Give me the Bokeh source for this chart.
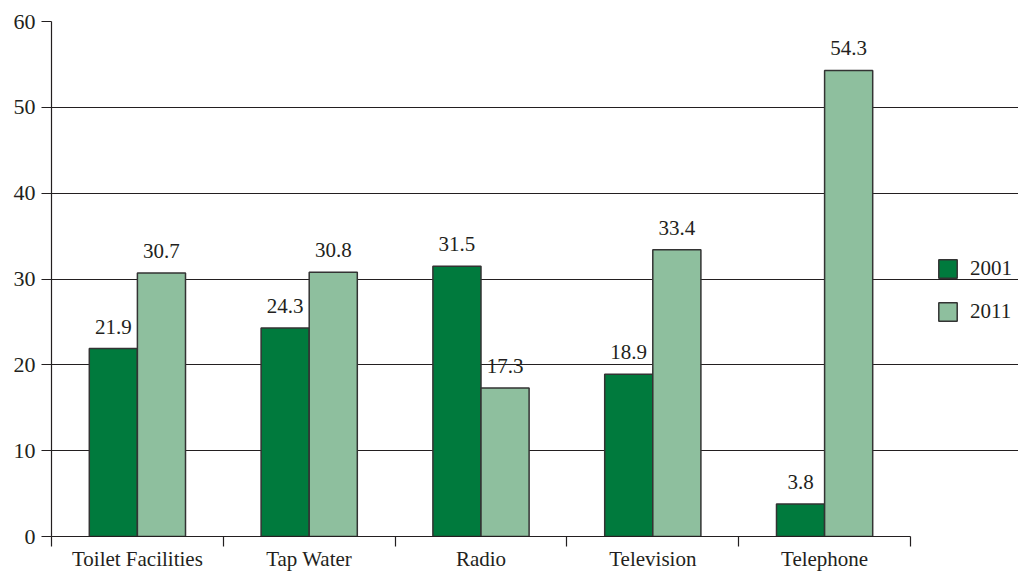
import numpy as np
from bokeh.plotting import figure
from bokeh.models import (ColumnDataSource, FixedTicker, CustomJSTickFormatter,
                          Legend, LegendItem, Range1d)
from bokeh.core.properties import value
from bokeh.embed import file_html
from bokeh.resources import INLINE

categories = ["Toilet Facilities", "Tap Water", "Radio", "Television", "Telephone"]
values_2001 = [21.9, 24.3, 31.5, 18.9, 3.8]
values_2011 = [30.7, 30.8, 17.3, 33.4, 54.3]
series_names = ["2001", "2011"]
y_ticks = [0, 10, 20, 30, 40, 50, 60]

FONT = "Liberation Serif"
TXT = "#231f20"
C2001 = "#007a3d"
C2011 = "#8ebf9e"
BAR_W = 0.28
OFF = 0.14

n = len(categories)
idx = np.arange(n)
centers = idx + 0.5
src01 = ColumnDataSource(dict(x=centers - OFF, top=values_2001,
                              lab=[f"{v:.1f}" for v in values_2001]))
src11 = ColumnDataSource(dict(x=centers + OFF, top=values_2011,
                              lab=[f"{v:.1f}" for v in values_2011]))

# frame extends to the right edge so the legend is not clipped;
# axis line and grid are bounded to the category span
FRAME_L, PLOT_R, W = 51, 910, 1018
x_end = n * (W - FRAME_L) / (PLOT_R - FRAME_L)

p = figure(width=W, height=573, output_backend="svg", toolbar_location=None,
           x_range=Range1d(0, x_end), y_range=Range1d(0, 60),
           min_border_left=FRAME_L, min_border_right=0, min_border_top=21,
           min_border_bottom=0)
p.outline_line_color = None
p.xgrid.visible = False
p.ygrid.grid_line_color = TXT
p.ygrid.grid_line_width = 1.2
p.ygrid.ticker = FixedTicker(ticks=y_ticks)
p.ygrid.bounds = (0, n)

r01 = p.vbar(x="x", top="top", width=BAR_W, source=src01, fill_color=C2001,
             line_color="#333333", line_width=1.5)
r11 = p.vbar(x="x", top="top", width=BAR_W, source=src11, fill_color=C2011,
             line_color="#333333", line_width=1.5)

for s in (src01, src11):
    p.text(x="x", y="top", text="lab", source=s, text_align="center",
           text_baseline="middle", y_offset=-22,
           text_font=value(FONT), text_font_size="21px", text_color=TXT)

# y axis
ya = p.yaxis[0]
ya.ticker = FixedTicker(ticks=y_ticks)
ya.major_tick_out = 10
ya.major_tick_in = 0
ya.minor_tick_out = 0
ya.minor_tick_in = 0
ya.axis_line_color = TXT
ya.axis_line_width = 1.2
ya.major_tick_line_color = TXT
ya.major_tick_line_width = 1.2
ya.major_label_standoff = 6
ya.major_label_text_font = FONT
ya.major_label_text_font_size = "22px"
ya.major_label_text_color = TXT

# x axis
xa = p.xaxis[0]
xa.bounds = (0, n)
xa.ticker = FixedTicker(ticks=list(centers), minor_ticks=list(range(n + 1)))
xa.formatter = CustomJSTickFormatter(args=dict(cats=categories),
                                     code="return cats[Math.floor(tick)];")
xa.major_tick_out = 0
xa.major_tick_in = 0
xa.minor_tick_out = 10
xa.minor_tick_in = 0
xa.minor_tick_line_color = TXT
xa.minor_tick_line_width = 1.2
xa.axis_line_color = TXT
xa.axis_line_width = 1.2
xa.major_label_standoff = 0
xa.major_label_text_font = FONT
xa.major_label_text_font_size = "21px"
xa.major_label_text_color = TXT

legend = Legend(items=[LegendItem(label=series_names[0], renderers=[r01]),
                       LegendItem(label=series_names[1], renderers=[r11])],
                location=(885, 212), padding=0, margin=0, spacing=18,
                glyph_width=23, glyph_height=23, label_standoff=11,
                label_text_font=FONT, label_text_font_size="21px",
                label_text_color=TXT, border_line_color=None,
                background_fill_alpha=0)
p.add_layout(legend, "center")

open("out.html", "w").write(file_html(p, INLINE))
